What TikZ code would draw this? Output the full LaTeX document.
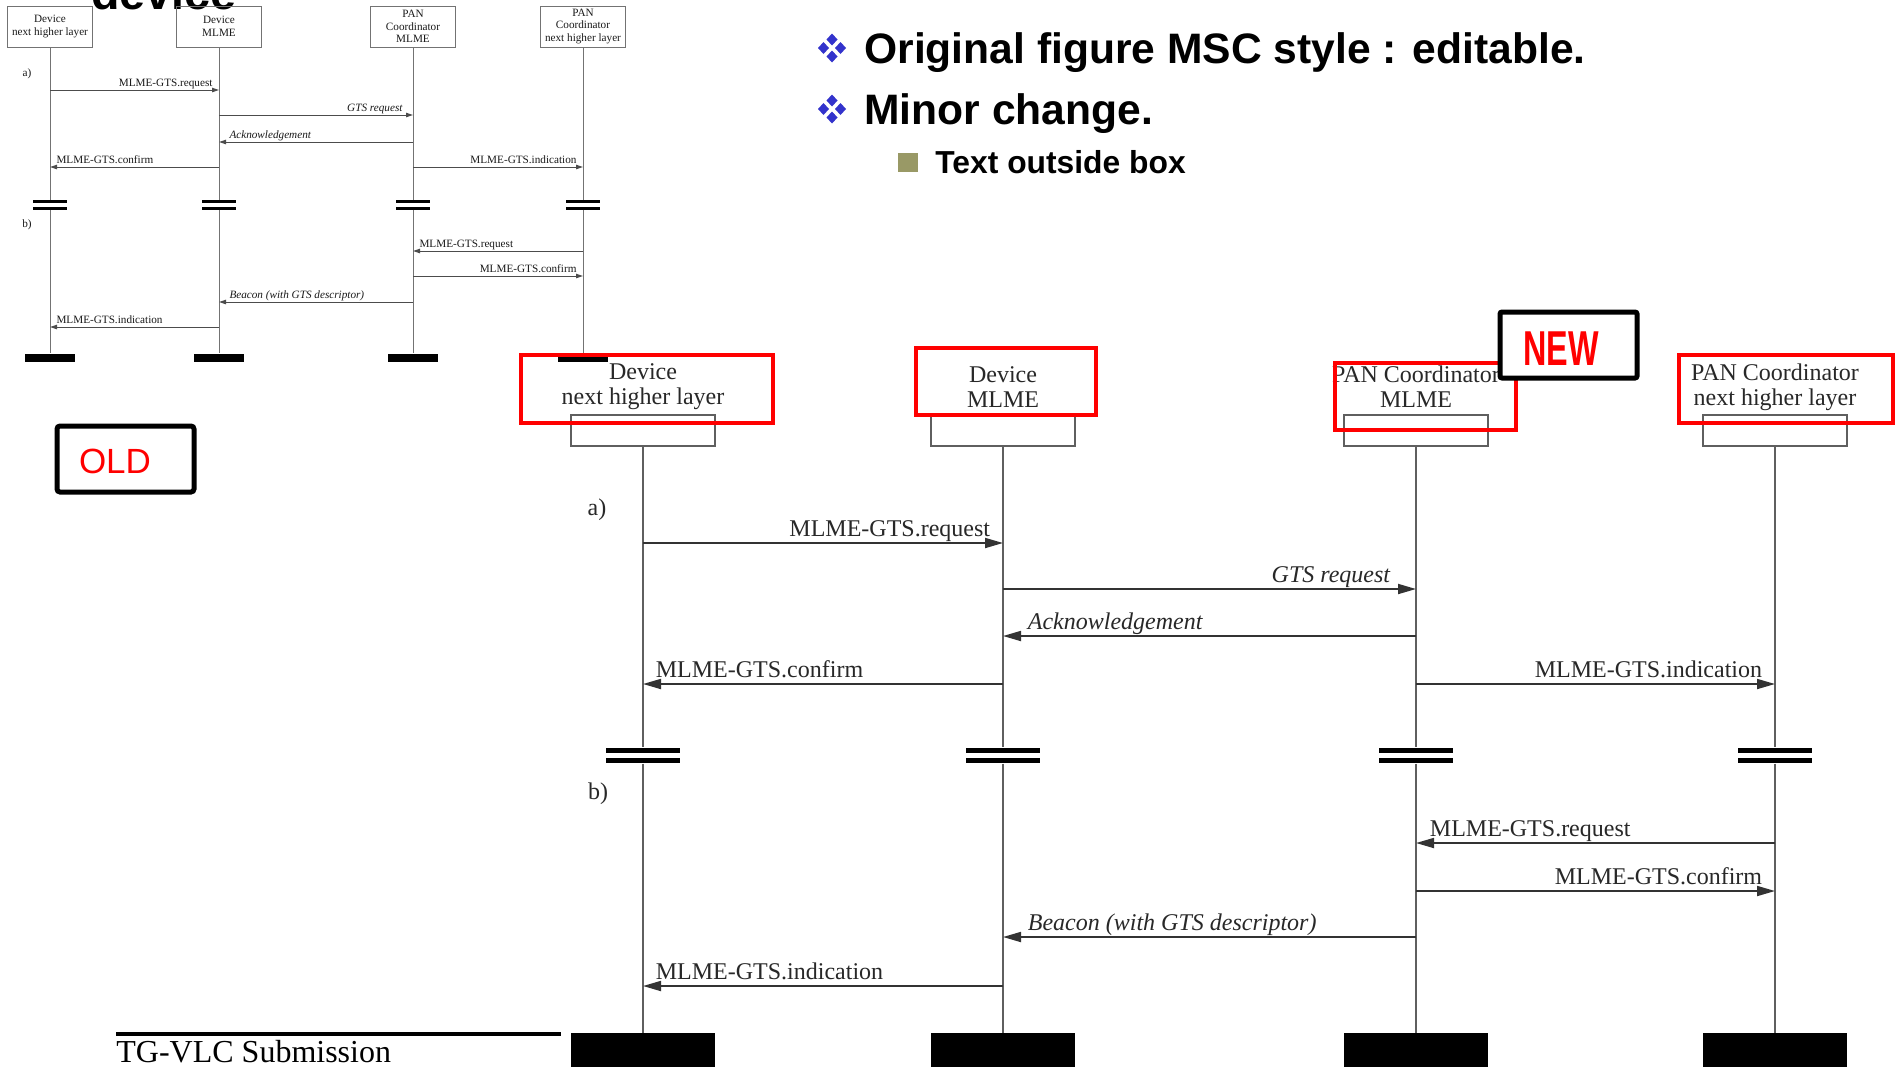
\documentclass[tikz,border=0pt]{standalone}
\usepackage{fontspec}
\setmainfont{Liberation Serif}
\newfontfamily\arialfont{Liberation Sans}
\usetikzlibrary{arrows.meta}
\definecolor{lifegray}{RGB}{95,95,95}
\definecolor{txtdark}{RGB}{40,40,40}
\definecolor{bulletblue}{RGB}{51,51,204}
\definecolor{bulletolive}{RGB}{153,153,102}
\newcommand\msgsize{\fontsize{12}{12.5}\selectfont}
\newcommand\oldsize{\fontsize{5.6}{6.3}\selectfont}
\tikzset{
  life/.style={draw=lifegray, line width=0.75pt},
  msgline/.style={draw=black!80, line width=0.9pt, -{Triangle[length=9pt,width=5pt]}},
  msglbl/.style={inner sep=0pt, text=txtdark, font=\msgsize},
  msgital/.style={inner sep=0pt, text=txtdark, font=\msgsize\itshape},
  hdr/.style={inner sep=0pt, align=center, text=txtdark, font=\msgsize},
  gbox/.style={draw=lifegray, line width=0.75pt, minimum width=72pt, minimum height=15.5pt, inner sep=0pt},
  endbar/.style={fill=black, minimum width=72pt, minimum height=18.5pt, inner sep=0pt},
  brk/.style={fill=black, minimum width=37pt, minimum height=2.75pt, inner sep=0pt},
  redbox/.style={draw=red, line width=2pt, inner sep=0pt},
  olife/.style={draw=black!55, line width=0.5pt},
  omsg/.style={draw=black!70, line width=0.5pt, -{Triangle[length=3.5pt,width=2.2pt]}},
  olbl/.style={inner sep=0pt, text=black!90, font=\oldsize},
  oital/.style={inner sep=0pt, text=black!90, font=\oldsize\itshape},
  obox/.style={draw=black!55, line width=0.5pt, minimum width=42.5pt, minimum height=20.5pt, inner sep=0pt, align=center, text=black!90, font=\oldsize},
  oend/.style={fill=black, minimum width=25pt, minimum height=4pt, inner sep=0pt},
  obrk/.style={fill=black, minimum width=17pt, minimum height=1.5pt, inner sep=0pt},
  dia4/.pic={\foreach \p in {(0,-8.5),(-8.5,0),(8.5,0),(0,8.5)}
     \fill[bulletblue] \p ++(0,-6) -- ++(5.5,6) -- ++(-5.5,6) -- ++(-5.5,-6) -- cycle;}
}
\begin{document}
\begin{tikzpicture}[x=0.5pt,y=-0.5pt]
\clip (0,0) rectangle (1899,1066);
\fill[white] (0,0) rectangle (1899,1066);

% clipped heading at the top
\node[anchor=base west, inner sep=0pt, font=\arialfont\bfseries\fontsize{23.3}{24}\selectfont] (dev) at (91,9) {device};

% ---------------- OLD small diagram ----------------
\node[obox] (ob1) at (50,26.5) {Device\\next higher layer};
\node[obox] (ob2) at (219,26.5) {Device\\MLME};
\node[obox] (ob3) at (413,26.5) {PAN\\Coordinator\\MLME};
\node[obox] (ob4) at (583,26.5) {PAN\\Coordinator\\next higher layer};
\foreach \i/\x in {1/50,2/219,3/413,4/583}{
  \node[obrk] (obt\i) at (\x,201.5) {};
  \node[obrk] (obb\i) at (\x,208.5) {};
  \node[oend] (oe\i) at (\x,357.5) {};
  \draw[olife] (ob\i.south) -- (obt\i.north);
  \draw[olife] (obb\i.south) -- (oe\i.north);
}
\node[olbl] (oa) at (27,74) {a)};
\node[olbl] (obl) at (27,225) {b)};
\coordinate (o1s) at (50,90);   \coordinate (o1e) at (219,90);
\coordinate (o2s) at (219,115); \coordinate (o2e) at (413,115);
\coordinate (o3s) at (413,142); \coordinate (o3e) at (219,142);
\coordinate (o4s) at (219,167); \coordinate (o4e) at (50,167);
\coordinate (o5s) at (413,167); \coordinate (o5e) at (583,167);
\coordinate (o6s) at (583,251); \coordinate (o6e) at (413,251);
\coordinate (o7s) at (413,276); \coordinate (o7e) at (583,276);
\coordinate (o8s) at (413,302); \coordinate (o8e) at (219,302);
\coordinate (o9s) at (219,327); \coordinate (o9e) at (50,327);
\draw[omsg] (o1s) -- (o1e) node[olbl, pos=1, anchor=base east, xshift=-3pt, yshift=2pt] {MLME-GTS.request};
\draw[omsg] (o2s) -- (o2e) node[oital, pos=1, anchor=base east, xshift=-5pt, yshift=2pt] {GTS request};
\draw[omsg] (o3s) -- (o3e) node[oital, pos=1, anchor=base west, xshift=5pt, yshift=2pt] {Acknowledgement};
\draw[omsg] (o4s) -- (o4e) node[olbl, pos=1, anchor=base west, xshift=3pt, yshift=2pt] {MLME-GTS.confirm};
\draw[omsg] (o5s) -- (o5e) node[olbl, pos=1, anchor=base east, xshift=-3pt, yshift=2pt] {MLME-GTS.indication};
\draw[omsg] (o6s) -- (o6e) node[olbl, pos=1, anchor=base west, xshift=3pt, yshift=2pt] {MLME-GTS.request};
\draw[omsg] (o7s) -- (o7e) node[olbl, pos=1, anchor=base east, xshift=-3pt, yshift=2pt] {MLME-GTS.confirm};
\draw[omsg] (o8s) -- (o8e) node[oital, pos=1, anchor=base west, xshift=5pt, yshift=2pt] {Beacon (with GTS descriptor)};
\draw[omsg] (o9s) -- (o9e) node[olbl, pos=1, anchor=base west, xshift=3pt, yshift=2pt] {MLME-GTS.indication};

% OLD tag
\node[draw=black, line width=2.5pt, rounded corners=1.5pt, minimum width=68.5pt, minimum height=33pt, inner sep=0pt] (oldbox) at (125.5,459) {};
\node[text=red, inner sep=0pt, font=\arialfont\fontsize{17.5}{18}\selectfont] (oldtxt) at (115,461) {OLD};

% ---------------- Bullets ----------------
\pic at (832,48) {dia4};
\pic at (832,109) {dia4};
\node[anchor=base west, inner sep=0pt, font=\arialfont\bfseries\fontsize{21.3}{22}\selectfont] (t1) at (864,63) {Original figure MSC style : editable.};
\node[anchor=base west, inner sep=0pt, font=\arialfont\bfseries\fontsize{21.3}{22}\selectfont] (t2) at (864,124) {Minor change.};
\node[fill=bulletolive, minimum width=10pt, minimum height=9.7pt, inner sep=0pt] (sq) at (907.5,162.5) {};
\node[anchor=base west, inner sep=0pt, font=\arialfont\bfseries\fontsize{15.9}{16.5}\selectfont] (t3) at (935,173) {Text outside box};

% ---------------- NEW big diagram ----------------
\foreach \i/\x in {1/643,2/1003,3/1416,4/1775}{
  \node[gbox] (g\i) at (\x,430.5) {};
  \node[brk] (bt\i) at (\x,750.5) {};
  \node[brk] (bb\i) at (\x,760.5) {};
  \node[endbar] (e\i) at (\x,1051.5) {};
  \draw[life] (g\i.south) -- (bt\i.north);
  \draw[life] (bb\i.south) -- (e\i.north);
}
\node[hdr] (h1) at (643,387) {Device\\next higher layer};
\node[hdr] (h2) at (1003,387) {Device\\MLME};
\node[hdr] (h3) at (1416,387) {PAN Coordinator\\MLME};
\node[hdr] (h4) at (1775,387) {PAN Coordinator\\next higher layer};

\node[msglbl] (la) at (597,510) {a)};
\node[msglbl] (lb) at (598,794) {b)};

\coordinate (m1s) at (643,543);  \coordinate (m1e) at (1003,543);
\coordinate (m2s) at (1003,589); \coordinate (m2e) at (1416,589);
\coordinate (m3s) at (1416,636); \coordinate (m3e) at (1003,636);
\coordinate (m4s) at (1003,684); \coordinate (m4e) at (643,684);
\coordinate (m5s) at (1416,684); \coordinate (m5e) at (1775,684);
\coordinate (m6s) at (1775,843); \coordinate (m6e) at (1416,843);
\coordinate (m7s) at (1416,891); \coordinate (m7e) at (1775,891);
\coordinate (m8s) at (1416,937); \coordinate (m8e) at (1003,937);
\coordinate (m9s) at (1003,986); \coordinate (m9e) at (643,986);
\draw[msgline] (m1s) -- (m1e) node[msglbl, pos=1, anchor=base east, xshift=-6pt, yshift=3.5pt] {MLME-GTS.request};
\draw[msgline] (m2s) -- (m2e) node[msgital, pos=1, anchor=base east, xshift=-12.5pt, yshift=3.5pt] {GTS request};
\draw[msgline] (m3s) -- (m3e) node[msgital, pos=1, anchor=base west, xshift=12pt, yshift=3.5pt] {Acknowledgement};
\draw[msgline] (m4s) -- (m4e) node[msglbl, pos=1, anchor=base west, xshift=6pt, yshift=3.5pt] {MLME-GTS.confirm};
\draw[msgline] (m5s) -- (m5e) node[msglbl, pos=1, anchor=base east, xshift=-6pt, yshift=3.5pt] {MLME-GTS.indication};
\draw[msgline] (m6s) -- (m6e) node[msglbl, pos=1, anchor=base west, xshift=6.5pt, yshift=3.5pt] {MLME-GTS.request};
\draw[msgline] (m7s) -- (m7e) node[msglbl, pos=1, anchor=base east, xshift=-6pt, yshift=3.5pt] {MLME-GTS.confirm};
\draw[msgline] (m8s) -- (m8e) node[msgital, pos=1, anchor=base west, xshift=12pt, yshift=3.5pt] {Beacon (with GTS descriptor)};
\draw[msgline] (m9s) -- (m9e) node[msglbl, pos=1, anchor=base west, xshift=6pt, yshift=3.5pt] {MLME-GTS.indication};

% red highlight boxes
\node[redbox, minimum width=126pt, minimum height=34pt] (r1) at (647,389) {};
\node[redbox, minimum width=90pt, minimum height=33.5pt] (r2) at (1006,381.5) {};
\node[redbox, minimum width=90.5pt, minimum height=33.5pt] (r3) at (1425.5,396.5) {};
\node[redbox, minimum width=107pt, minimum height=34pt] (r4) at (1786,389) {};

% NEW tag
\node[draw=black, line width=2.5pt, rounded corners=1pt, fill=white, minimum width=68.5pt, minimum height=33pt, inner sep=0pt] (newbox) at (1568.5,345) {};
\node[text=red, inner sep=0pt, font=\arialfont\bfseries\fontsize{24.5}{25}\selectfont] (newtxt) at (1561,349) {\scalebox{0.66}[1]{NEW}};

% footer
\node[anchor=base west, inner sep=0pt, font=\fontsize{16}{16}\selectfont] (foot) at (116,1062) {TG-VLC Submission};
\coordinate (fl1) at (116,1034); \coordinate (fl2) at (561,1034);
\draw[line width=1.75pt] (fl1) -- (fl2);
\end{tikzpicture}
\end{document}
